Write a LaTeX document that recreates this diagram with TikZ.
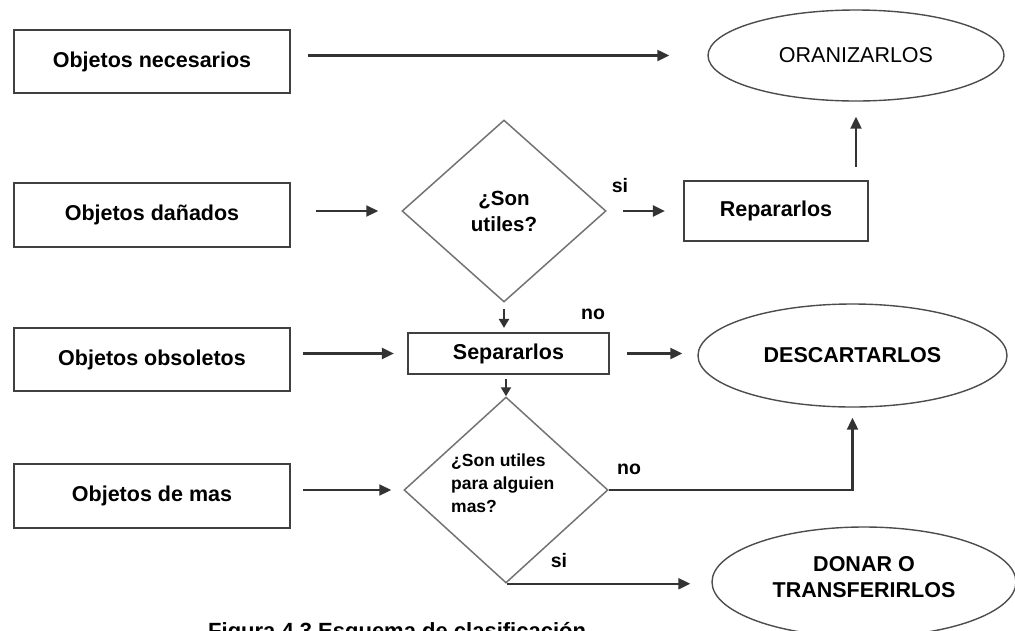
\documentclass[tikz,border=0pt]{standalone}
\usepackage{fontspec}
\setmainfont{Liberation Sans}
\usetikzlibrary{shapes.geometric,arrows.meta}
\begin{document}
\begin{tikzpicture}[x=1pt,y=-1pt,
  boxnode/.style={draw=black!75,line width=2.2pt,rectangle,inner sep=0pt,
    font=\fontsize{21.5}{24}\selectfont\bfseries},
  decision/.style={draw=black!55,line width=1.5pt,diamond,inner sep=0pt,
    minimum width=204pt,font=\fontsize{20.5}{26}\selectfont\bfseries,align=center},
  endnode/.style={draw=black!70,line width=1.4pt,ellipse,inner sep=0pt,
    font=\fontsize{21.5}{26}\selectfont\bfseries,align=center},
  arr/.style={draw=black!80,line width=2.2pt,-{Triangle[length=12pt,width=11pt]}},
  sarr/.style={draw=black!80,line width=2.2pt,-{Triangle[length=9pt,width=10pt]}},
  lbl/.style={font=\fontsize{19.5}{22}\selectfont\bfseries,inner sep=0pt}
]
\useasboundingbox (0,0) rectangle (1015,630);
\clip (0,0) rectangle (1015,630);

% left boxes
\node[boxnode,minimum width=276pt,minimum height=63pt] (n1) at (152,61.5) {Objetos necesarios};
\node[boxnode,minimum width=276pt,minimum height=64pt] (n2) at (152,215) {Objetos dañados};
\node[boxnode,minimum width=276pt,minimum height=63pt] (n3) at (152,359.5) {Objetos obsoletos};
\node[boxnode,minimum width=276pt,minimum height=64pt] (n4) at (152,496) {Objetos de mas};

% decisions
\node[decision,minimum height=182pt] (d1) at (504,211) {¿Son\\utiles?};
\node[decision,minimum height=186pt] (d2) at (506,490) {};
\node[font=\fontsize{17.5}{23}\selectfont\bfseries,align=left,anchor=north west,inner sep=0pt] (d2t) at (451,454) {¿Son utiles\\para alguien\\mas?};

% process boxes
\node[boxnode,minimum width=184pt,minimum height=60pt] (rep) at (776,211) {Repararlos};
\node[boxnode,minimum width=201pt,minimum height=41pt] (sep) at (508.5,353.5) {Separarlos};

% end ellipses
\node[endnode,minimum width=296pt,minimum height=91pt,font=\fontsize{21.5}{26}\selectfont] (e1) at (856,55.5) {ORANIZARLOS};
\node[endnode,minimum width=309pt,minimum height=103pt] (e2) at (852.5,355.5) {DESCARTARLOS};
\node[endnode,minimum width=304pt,minimum height=110pt] (e3) at (864,582) {};
\node[font=\fontsize{21.5}{26}\selectfont\bfseries,align=center,inner sep=0pt] (e3t) at (864,577) {DONAR O\\TRANSFERIRLOS};

% connectors
\draw[arr,shorten <=17pt,shorten >=38pt] (n1.east |- e1.west) -- (e1.west);
\draw[arr,shorten <=25pt,shorten >=23pt] (n2.east |- d1.west) -- (d1.west);
\draw[arr,shorten <=16pt,shorten >=18pt] (d1.east) -- (rep.west);
\draw[arr,shorten <=13pt,shorten >=15pt] (e1.south |- rep.north) -- (e1.south);
\draw[sarr,shorten <=6pt,shorten >=4pt] (d1.south) -- (d1.south |- sep.north);
\draw[arr,shorten <=12pt,shorten >=13pt] (n3.east |- sep.west) -- (sep.west);
\draw[arr,shorten <=17pt,shorten >=15pt] (sep.east) -- (sep.east -| e2.west);
\draw[sarr,shorten <=4pt] (d2.north |- sep.south) -- (d2.north);
\draw[arr,shorten <=12pt,shorten >=12pt] (n4.east |- d2.west) -- (d2.west);
\draw[arr,shorten >=10pt] (d2.east) -- (d2.east -| e2.south) -- (e2.south);
\draw[arr,shorten <=1pt,shorten >=21pt] (d2.south) -- (d2.south -| e3.west);

% labels
\node[lbl] (l1) at (620,186) {si};
\node[lbl] (l2) at (593,314) {no};
\node[lbl] (l3) at (629,469) {no};
\node[lbl] (l4) at (559,561) {si};

% caption (cut off at the bottom edge, as in the reference)
\node[font=\fontsize{22}{26}\selectfont\bfseries,anchor=base west,inner sep=0pt] (cap) at (208,638) {Figura 4.3 Esquema de clasificación};
\end{tikzpicture}
\end{document}
